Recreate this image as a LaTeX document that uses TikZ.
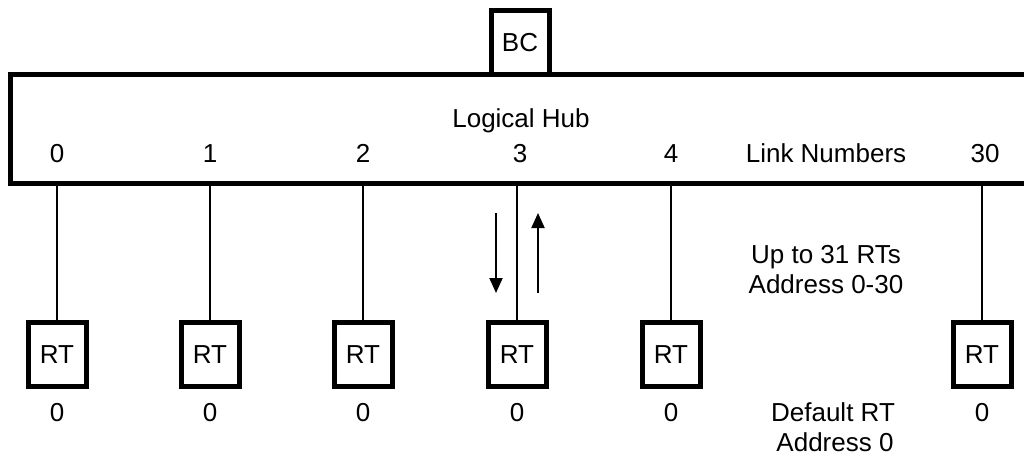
\documentclass[tikz,border=0pt]{standalone}
\usepackage{fontspec}
\setmainfont{Liberation Sans}
\usetikzlibrary{arrows.meta}
\tikzset{
  unit/.style={draw,line width=5pt,minimum width=58pt,minimum height=64pt,inner sep=0pt},
  hubbox/.style={draw,line width=5pt,minimum width=1040pt,minimum height=109pt,inner sep=0pt},
  label/.style={anchor=base,inner sep=0pt},
  stub/.style={line width=2.5pt},
  flow/.style={line width=2pt,-{Triangle[width=13pt,length=15pt]}}
}
\begin{document}
\begin{tikzpicture}[x=1pt,y=-1pt,font=\fontsize{26}{31}\selectfont]
\clip (0,0) rectangle (1024,455);
\node[hubbox] (hub) at (530,129) {}; %logical hub
\node[unit,fill=white] (bc) at (520,42.5) {BC}; %bus controller
\node[label] (hubname) at (521,127) {Logical Hub};
\node[label] (linknames) at (826,162) {Link Numbers};
%remote terminals
\foreach \x/\n/\t in {57/0/57,210/1/210,363/2/363,517/3/520,671/4/671,982/30/985}{
  \node[unit] (rt\n) at (\x,354.5) {RT};
  \node[label] (link\n) at (\t,162) {\n};
  \node[label] (addr\n) at (\x,421) {0};
  \draw[stub] (rt\n |- hub.south) -- (rt\n);
}
%traffic on link 3
\coordinate (dn1) at (496,213);
\coordinate (dn2) at (496,293);
\coordinate (up1) at (538,293);
\coordinate (up2) at (538,213);
\draw[flow] (dn1) -- (dn2);
\draw[flow] (up1) -- (up2);
%notes
\node[label] (upto) at (826,263) {Up to 31 RTs};
\node[label] (range) at (826,293) {Address 0-30};
\node[label] (dflt) at (833,421) {Default RT};
\node[label] (dfltaddr) at (835,451) {Address 0};
\end{tikzpicture}
\end{document}
